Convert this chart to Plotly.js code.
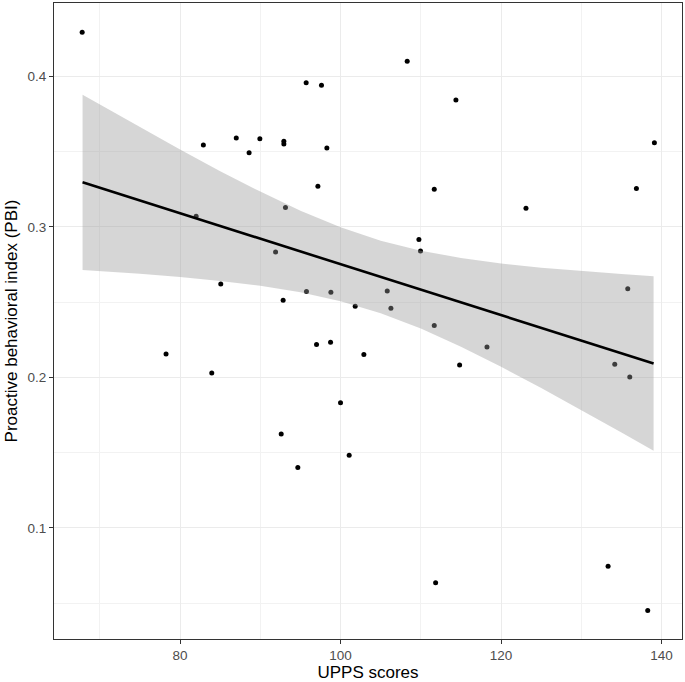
<!DOCTYPE html>
<html>
<head>
<meta charset="utf-8">
<script src="https://cdn.plot.ly/plotly-3.0.1.min.js"></script>
<style>
html,body{margin:0;padding:0;background:#fff;}
#chart{width:685px;height:682px;}
</style>
</head>
<body>
<div id="chart"></div>
<script>
// Observed data: UPPS scores (x) and Proactive behavioral index (y)
const uppsScores = [67.8, 82.9, 87.0, 88.6, 82.0, 89.94, 92.93, 92.93, 95.71, 97.62,
  98.29, 97.17, 93.13, 108.3, 114.37, 111.67, 123.1, 136.86, 139.1, 109.76,
  109.96, 91.9, 95.75, 98.79, 92.84, 101.82, 105.81, 106.27, 111.67, 118.24,
  135.78, 134.16, 136.03, 97.0, 98.75, 102.9, 114.83, 99.99, 92.6, 101.07,
  94.67, 85.07, 78.25, 83.95, 111.84, 133.33, 138.27];
const pbiValues = [0.4293, 0.3543, 0.359, 0.3492, 0.3071, 0.3585, 0.3568, 0.355, 0.3957, 0.394,
  0.3523, 0.3269, 0.3129, 0.41, 0.3842, 0.3249, 0.3124, 0.3255, 0.3558, 0.2916,
  0.284, 0.2833, 0.257, 0.2566, 0.2512, 0.2473, 0.2573, 0.246, 0.2344, 0.2202,
  0.2588, 0.2087, 0.2003, 0.2218, 0.2233, 0.2152, 0.2083, 0.1832, 0.1624, 0.1482,
  0.1402, 0.2621, 0.2156, 0.2029, 0.0635, 0.0746, 0.0451];

// Fitted line and confidence band
const fitX = [67.85, 75, 80, 85, 90, 95, 100, 105, 110, 115, 120, 125, 130, 135, 139];
const fitY = [0.3296, 0.3175, 0.3090, 0.3005, 0.2921, 0.2836, 0.2752, 0.2667, 0.2583, 0.2498, 0.2413, 0.2329, 0.2244, 0.2160, 0.2092];
const bandUpper = [0.3878, 0.3662, 0.3514, 0.3370, 0.3234, 0.3107, 0.2998, 0.2908, 0.2842, 0.2793, 0.2756, 0.2729, 0.2705, 0.2686, 0.2672];
const bandLower = [0.2714, 0.2688, 0.2666, 0.2640, 0.2608, 0.2565, 0.2506, 0.2426, 0.2324, 0.2203, 0.2070, 0.1929, 0.1783, 0.1634, 0.1512];

const xTickVals = [80, 100, 120, 140];
const yTickVals = [0.1, 0.2, 0.3, 0.4];
const yTickText = ['0.1', '0.2', '0.3', '0.4'];

const pointsTrace = {
  type: 'scatter', mode: 'markers',
  x: uppsScores, y: pbiValues,
  marker: {color: '#000000', size: 5},
  hoverinfo: 'x+y', showlegend: false
};
const bandTrace = {
  type: 'scatter', mode: 'lines',
  x: fitX.concat(fitX.slice().reverse()),
  y: bandUpper.concat(bandLower.slice().reverse()),
  fill: 'toself', fillcolor: 'rgba(153,153,153,0.4)',
  line: {width: 0, color: 'rgba(0,0,0,0)'},
  hoverinfo: 'skip', showlegend: false
};
const lineTrace = {
  type: 'scatter', mode: 'lines',
  x: fitX, y: fitY,
  line: {color: '#000000', width: 2.6},
  hoverinfo: 'skip', showlegend: false
};

const family = '"Liberation Sans", Arial, sans-serif';

const layout = {
  width: 685, height: 682,
  paper_bgcolor: '#ffffff', plot_bgcolor: '#ffffff',
  margin: {l: 54, r: 3, t: 3, b: 43, pad: 0},
  font: {family: family, color: '#4d4d4d', size: 13.5},
  showlegend: false,
  xaxis: {
    range: [64.29, 142.54],
    tickvals: xTickVals,
    ticks: 'outside', ticklen: 4, tickwidth: 1, tickcolor: '#333333',
    tickfont: {family: family, color: '#4d4d4d', size: 13.5},
    showgrid: true, gridcolor: '#ebebeb', gridwidth: 1,
    minor: {dtick: 10, tick0: 70, showgrid: true, gridcolor: '#f2f2f2', gridwidth: 1, ticks: ''},
    zeroline: false,
    showline: true, linecolor: '#333333', linewidth: 1, mirror: true,
    title: {text: 'UPPS scores', font: {family: family, color: '#000000', size: 17}, standoff: 6},
    automargin: false
  },
  yaxis: {
    range: [0.0262, 0.4487],
    tickvals: yTickVals, ticktext: yTickText,
    ticks: 'outside', ticklen: 4, tickwidth: 1, tickcolor: '#333333',
    tickfont: {family: family, color: '#4d4d4d', size: 13.5},
    showgrid: true, gridcolor: '#ebebeb', gridwidth: 1,
    minor: {dtick: 0.1, tick0: 0.05, showgrid: true, gridcolor: '#f2f2f2', gridwidth: 1, ticks: ''},
    zeroline: false,
    showline: true, linecolor: '#333333', linewidth: 1, mirror: true,
    title: {text: 'Proactive behavioral index (PBI)', font: {family: family, color: '#000000', size: 17}, standoff: 5},
    automargin: false
  }
};

Plotly.newPlot('chart', [pointsTrace, bandTrace, lineTrace], layout, {displayModeBar: false, staticPlot: true});
</script>
</body>
</html>
